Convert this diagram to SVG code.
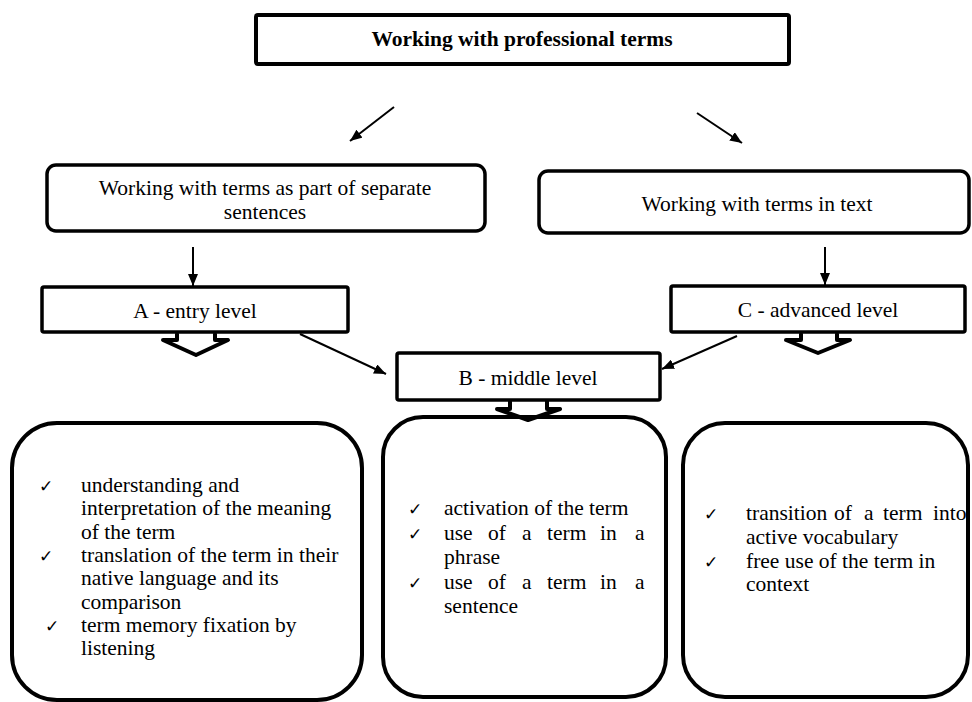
<svg xmlns="http://www.w3.org/2000/svg" width="972" height="702" viewBox="0 0 972 702">
<style>
.box{fill:#fff;stroke:#000;stroke-width:3.5}
.chev{fill:none;stroke:#000;stroke-width:4;stroke-linejoin:round;stroke-linecap:round}
.arr{stroke:#000;stroke-width:2;fill:none}
</style>
<defs>
<marker id="ah" viewBox="0 0 12 10" refX="12" refY="5" markerWidth="12" markerHeight="10" markerUnits="userSpaceOnUse" orient="auto">
<path d="M0,0 L12,5 L0,10 z" fill="#000"/>
</marker>
</defs>
<rect width="972" height="702" fill="#fff"/>

<g font-family="Liberation Serif, Times New Roman, serif" font-size="21.5" fill="#000">

<g id="root">
<rect class="box" x="256" y="15" width="533" height="49" rx="2" style="stroke-width:4"/>
<text x="522" y="46" font-weight="bold" text-anchor="middle">Working with professional terms</text>
</g>

<g id="sentences" text-anchor="middle">
<rect class="box" x="47" y="165" width="438" height="66" rx="9"/>
<text x="265" y="195">Working with terms as part of separate</text>
<text x="265" y="219">sentences</text>
</g>

<g id="text" text-anchor="middle">
<rect class="box" x="539" y="171" width="430" height="62" rx="9"/>
<text x="757" y="211">Working with terms in text</text>
</g>

<g id="levelA" text-anchor="middle">
<rect class="box" x="42" y="287" width="306" height="45" rx="2"/>
<text x="195" y="318">A - entry level</text>
<path class="chev" d="M177,334 V340 H163 L196,355 L228,340 H215 V334"/>
</g>

<g id="levelC" text-anchor="middle">
<rect class="box" x="671" y="286" width="294" height="46" rx="2"/>
<text x="818" y="317">C - advanced level</text>
<path class="chev" d="M801,334 V340 H786 L818,353 L850,340 H837 V334"/>
</g>

<g id="levelB" text-anchor="middle">
<rect class="box" x="397" y="353" width="263" height="47" rx="2"/>
<text x="528" y="385">B - middle level</text>
</g>

<g id="boxA">
<rect class="box" x="12" y="423" width="350" height="277" rx="45" style="stroke-width:4"/>
<g font-family="DejaVu Sans, sans-serif" font-size="17">
<text x="39" y="492">✓</text>
<text x="39" y="562">✓</text>
<text x="45" y="632">✓</text>
</g>
<text x="81" y="492">understanding and</text>
<text x="81" y="515">interpretation of the meaning</text>
<text x="81" y="538.5">of the term</text>
<text x="81" y="562">translation of the term in their</text>
<text x="81" y="585">native language and its</text>
<text x="81" y="608.5">comparison</text>
<text x="81" y="632">term memory fixation by</text>
<text x="81" y="655">listening</text>
</g>

<g id="boxB">
<rect class="box" x="383" y="417" width="283" height="280" rx="40" style="stroke-width:4"/>
<path class="chev" d="M510,401 V409 H497 L528,420 L560,409 H547 V401"/>
<g font-family="DejaVu Sans, sans-serif" font-size="17">
<text x="408" y="515">✓</text>
<text x="408" y="539.5">✓</text>
<text x="408" y="588.5">✓</text>
</g>
<text x="444" y="515">activation of the term</text>
<text y="539.5"><tspan x="444">use</tspan><tspan x="488">of</tspan><tspan x="522">a</tspan><tspan x="547">term</tspan><tspan x="600">in</tspan><tspan x="635">a</tspan></text>
<text x="444" y="564">phrase</text>
<text y="588.5"><tspan x="444">use</tspan><tspan x="488">of</tspan><tspan x="522">a</tspan><tspan x="547">term</tspan><tspan x="600">in</tspan><tspan x="635">a</tspan></text>
<text x="444" y="613">sentence</text>
</g>

<g id="boxC">
<rect class="box" x="683" y="423" width="285" height="274" rx="42" style="stroke-width:4"/>
<g font-family="DejaVu Sans, sans-serif" font-size="17">
<text x="704" y="520">✓</text>
<text x="704" y="567.5">✓</text>
</g>
<text y="520"><tspan x="746">transition</tspan><tspan x="834">of</tspan><tspan x="864">a</tspan><tspan x="883">term</tspan><tspan x="933">into</tspan></text>
<text x="746" y="544">active vocabulary</text>
<text x="746" y="567.5">free use of the term in</text>
<text x="746" y="591">context</text>
</g>

</g>

<g id="connectors">
<line class="arr" x1="394" y1="107" x2="350" y2="141" marker-end="url(#ah)"/>
<line class="arr" x1="697" y1="113" x2="742" y2="143" marker-end="url(#ah)"/>
<line class="arr" x1="193" y1="247" x2="193" y2="286" marker-end="url(#ah)"/>
<line class="arr" x1="825" y1="247" x2="825" y2="285" marker-end="url(#ah)"/>
<line class="arr" x1="300" y1="334" x2="386" y2="374" marker-end="url(#ah)"/>
<line class="arr" x1="737" y1="336" x2="662" y2="369" marker-end="url(#ah)"/>
</g>
</svg>
